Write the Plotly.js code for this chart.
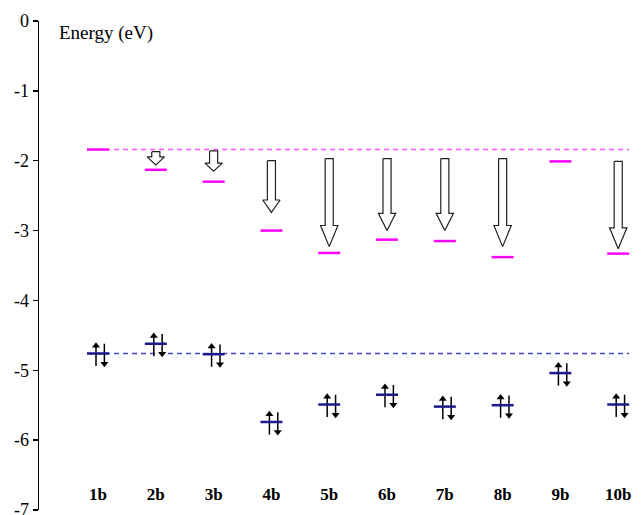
<!DOCTYPE html>
<html><head><meta charset="utf-8">
<script src="https://cdn.plot.ly/plotly-3.0.1.min.js"></script>
<style>body{margin:0;background:#fff}</style>
</head><body><div id="chart" style="width:641px;height:515px"></div>
<script>
const categories = ['1b','2b','3b','4b','5b','6b','7b','8b','9b','10b'];
const lumo = [-1.84,-2.13,-2.30,-3.00,-3.32,-3.13,-3.15,-3.38,-2.01,-3.33];
const homo = [-4.76,-4.62,-4.77,-5.74,-5.49,-5.35,-5.52,-5.50,-5.04,-5.49];
const arrowStart = [null,-1.87,-1.86,-2.00,-1.97,-1.97,-1.97,-1.97,null,-2.01];
const arrowEnd = [null,-2.06,-2.15,-2.74,-3.23,-3.00,-3.00,-3.23,null,-3.26];
const refLumo = -1.84;
const refHomo = -4.76;
const yTicks = [0,-1,-2,-3,-4,-5,-6,-7];
const yTickText = ['0','-1','-2','-3','-4','-5','-6','-7'];

const serif = 'Liberation Serif';
const pos = categories.map((c,i)=>i+1);
const hw = 0.19;

function levelTrace(vals, color){
  const x=[], y=[];
  vals.forEach((v,i)=>{ x.push(pos[i]-hw, pos[i]+hw, null); y.push(v, v, null); });
  return {x, y, mode:'lines', line:{color, width:2.5}, hoverinfo:'skip', showlegend:false};
}
function refTrace(v, color){
  return {x:[pos[0]-hw, pos[pos.length-1]+hw], y:[v,v], mode:'lines',
    line:{color, width:1.5, dash:'5px,4px'}, hoverinfo:'skip', showlegend:false};
}

// block arrows
const ax=[], ay=[];
const sw=0.07, hhw=0.15;
arrowStart.forEach((s,i)=>{
  if(s===null) return;
  const e=arrowEnd[i], x=pos[i];
  const len=s-e;
  const hl=Math.max(0.115, 0.24*len);
  ax.push(x-sw, x+sw, x+sw, x+hhw, x, x-hhw, x-sw, x-sw, null);
  ay.push(s, s, e+hl, e+hl, e, e+hl, e+hl, s, null);
});
const blockArrows = {x:ax, y:ay, mode:'lines', fill:'toself', fillcolor:'#ffffff',
  line:{color:'#222', width:1.2}, hoverinfo:'skip', showlegend:false};

// spin arrows
const ux=[], uy=[], dx=[], dy=[], umx=[], umy=[], dmx=[], dmy=[];
homo.forEach((h,i)=>{
  const xu=pos[i]-0.035, xd=pos[i]+0.11;
  ux.push(xu,xu,null); uy.push(h-0.18, h+0.10, null);
  umx.push(xu); umy.push(h+0.11);
  dx.push(xd,xd,null); dy.push(h+0.14, h-0.13, null);
  dmx.push(xd); dmy.push(h-0.145);
});
const spinUp = {x:ux, y:uy, mode:'lines', line:{color:'#000', width:1.5}, hoverinfo:'skip', showlegend:false};
const spinDown = {x:dx, y:dy, mode:'lines', line:{color:'#000', width:1.5}, hoverinfo:'skip', showlegend:false};
const spinUpHead = {x:umx, y:umy, mode:'markers', marker:{symbol:'triangle-up', size:7, color:'#000'}, hoverinfo:'skip', showlegend:false};
const spinDownHead = {x:dmx, y:dmy, mode:'markers', marker:{symbol:'triangle-down', size:7, color:'#000'}, hoverinfo:'skip', showlegend:false};

const labels = {x:pos, y:pos.map(()=>-6.80), mode:'text', text:categories.map(c=>'<b>'+c+'</b>'),
  textfont:{family:serif, size:17, color:'#000'}, hoverinfo:'skip', showlegend:false};

const data = [
  refTrace(refLumo, '#ff55ff'),
  refTrace(refHomo, '#4444cc'),
  blockArrows,
  spinUp, spinDown, spinUpHead, spinDownHead,
  levelTrace(lumo, '#ff00ff'),
  levelTrace(homo, '#1a1a8a'),
  labels
];

const layout = {
  width:641, height:515,
  margin:{l:39, r:0, t:21, b:5},
  paper_bgcolor:'#fff', plot_bgcolor:'#fff',
  showlegend:false,
  font:{family:serif},
  xaxis:{visible:false, range:[-0.021, 10.394], fixedrange:true},
  yaxis:{range:[-7,0], tickvals:yTicks, ticktext:yTickText, showgrid:false, zeroline:false,
    showline:true, linecolor:'#000', linewidth:1.5, ticks:'outside', ticklen:5, tickwidth:1.5,
    tickcolor:'#000', tickfont:{family:serif, size:18, color:'#000'}, fixedrange:true,
    ticklabeloverflow:'allow'},
  annotations:[{x:0.29, y:-0.17, xref:'x', yref:'y', text:'Energy (eV)', showarrow:false,
    xanchor:'left', yanchor:'middle', font:{family:serif, size:19, color:'#000'}}]
};
Plotly.newPlot('chart', data, layout, {displayModeBar:false, staticPlot:true});
</script></body></html>
